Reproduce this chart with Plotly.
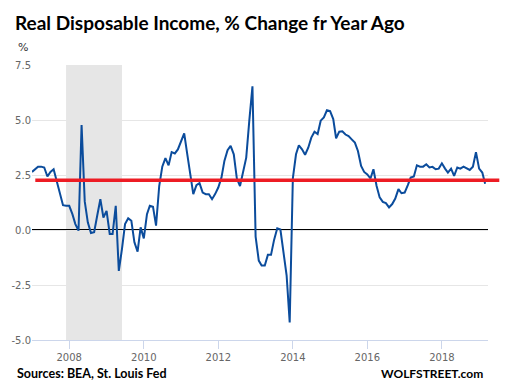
import pandas as pd
import plotly.graph_objects as go

start_month = "2007-01-01"
income_yoy = [
    2.64, 2.79, 2.88, 2.88, 2.84, 2.43, 2.64, 2.76, 2.23, 1.63, 1.13, 1.10,
    1.10, 0.72, 0.27, -0.03, 4.77, 1.30, 0.35, -0.14, -0.10, 0.65, 1.40, 0.57,
    0.87, -0.18, -0.18, 1.10, -1.86, -0.86, 0.27, 0.53, 0.42, -0.56, -0.98, 0.12,
    -0.38, 0.72, 1.10, 1.06, 0.20, 2.00, 2.88, 3.27, 2.94, 3.54, 3.48, 3.66,
    4.04, 4.39, 3.51, 2.46, 1.63, 2.04, 2.13, 1.70, 1.63, 1.63, 1.40, 1.63,
    1.93, 2.38, 3.14, 3.63, 3.82, 3.44, 2.34, 2.00, 2.68, 3.29, 5.02, 6.53,
    -0.30, -1.39, -1.61, -1.61, -1.13, -1.13, -0.45, 0.08, 0.02, -1.00, -2.07, -4.20,
    2.35, 3.44, 3.85, 3.67, 3.42, 3.74, 4.20, 4.47, 4.36, 4.97, 5.12, 5.44,
    5.40, 5.04, 4.17, 4.47, 4.49, 4.34, 4.27, 4.12, 3.97, 3.59, 2.91, 2.64,
    2.53, 2.34, 2.76, 2.00, 1.48, 1.28, 1.22, 1.03, 1.18, 1.43, 1.86, 1.67,
    1.70, 2.04, 2.38, 2.43, 2.94, 2.88, 2.88, 2.99, 2.84, 2.87, 2.76, 2.79,
    3.03, 2.79, 2.61, 2.79, 2.46, 2.84, 2.79, 2.88, 2.79, 2.73, 2.88, 3.54,
    2.79, 2.61, 2.10,
]
dates = pd.date_range(start_month, periods=len(income_yoy), freq="MS")

average_level = 2.26
recession = ["2007-12-01", "2009-06-01"]
x_range = ["2007-01-01", "2019-03-29"]
x_ticks = ["2008-01-01", "2010-01-01", "2012-01-01", "2014-01-01", "2016-01-01", "2018-01-01"]
x_tick_text = ["2008", "2010", "2012", "2014", "2016", "2018"]
y_ticks = [-5.0, -2.5, 0.0, 2.5, 5.0, 7.5]
y_tick_text = ["-5.0", "-2.5", "0.0", "2.5", "5.0", "7.5"]

title_text = "Real Disposable Income, % Change fr Year Ago"
source_text = "Sources: BEA, St. Louis Fed"
brand_text = "WOLFSTREET.com"

TITLE_FONT = "Lato, Liberation Sans, Arial, sans-serif"
TICK_FONT = "DejaVu Sans, sans-serif"

# page has an 8px body margin; figure coordinates = page coordinates - 8
L, R, T, B = 23.7, 16.3, 57.0, 42.0
W, H = 496, 374
PW, PH = W - L - R, H - T - B


def px_x(page_x):
    return (page_x - 8 - L) / PW


def px_y(page_y):
    return (H - B - (page_y - 8)) / PH


fig = go.Figure()
fig.add_trace(go.Scatter(
    x=dates, y=income_yoy, mode="lines",
    line=dict(color="#0b4c9c", width=2),
    hoverinfo="skip", showlegend=False,
))

shapes = [
    dict(type="rect", xref="x", yref="paper", x0=recession[0], x1=recession[1],
         y0=0, y1=1, fillcolor="#e6e6e6", line=dict(width=0), layer="between"),
    dict(type="line", xref="paper", yref="y", x0=0, x1=1, y0=0, y1=0,
         line=dict(color="#000000", width=2), layer="between"),
    dict(type="line", xref="paper", yref="y", x0=px_x(35), x1=px_x(499),
         y0=average_level, y1=average_level,
         line=dict(color="#ed1c24", width=3.5), layer="above"),
]

annotations = [
    dict(text="<b>" + title_text + "</b>", xref="paper", yref="paper",
         x=px_x(12.5), y=px_y(23), xanchor="left", yanchor="middle", showarrow=False,
         font=dict(family=TITLE_FONT, size=19, color="#000000")),
    dict(text="%", xref="paper", yref="paper", x=px_x(22.5), y=px_y(47),
         xanchor="center", yanchor="middle", showarrow=False,
         font=dict(family=TICK_FONT, size=11, color="#333333")),
    dict(text="<b>" + source_text + "</b>", xref="paper", yref="paper",
         x=px_x(15), y=px_y(373), xanchor="left", yanchor="middle", showarrow=False,
         font=dict(family=TITLE_FONT, size=12.5, color="#000000")),
    dict(text="<b>" + brand_text + "</b>", xref="paper", yref="paper",
         x=px_x(485), y=px_y(373), xanchor="right", yanchor="middle", showarrow=False,
         font=dict(family=TITLE_FONT, size=12, color="#000000")),
]

fig.update_layout(
    width=W, height=H,
    margin=dict(l=L, r=R, t=T, b=B, pad=0),
    paper_bgcolor="#ffffff", plot_bgcolor="#ffffff",
    shapes=shapes, annotations=annotations,
    xaxis=dict(
        type="date", range=x_range, tickvals=x_ticks, ticktext=x_tick_text,
        showgrid=False, zeroline=False, automargin=False,
        showline=True, linecolor="#ccd6eb", linewidth=1,
        ticks="outside", ticklen=8, tickcolor="#ccd6eb",
        tickfont=dict(family=TICK_FONT, size=10, color="#666666"),
    ),
    yaxis=dict(
        range=[-5, 7.5], tickvals=y_ticks, ticktext=y_tick_text,
        showgrid=True, gridcolor="#e6e6e6", gridwidth=1,
        zeroline=False, showline=False, ticks="", automargin=False,
        tickfont=dict(family=TICK_FONT, size=10, color="#666666"),
    ),
)

fig.write_html("out.html")
